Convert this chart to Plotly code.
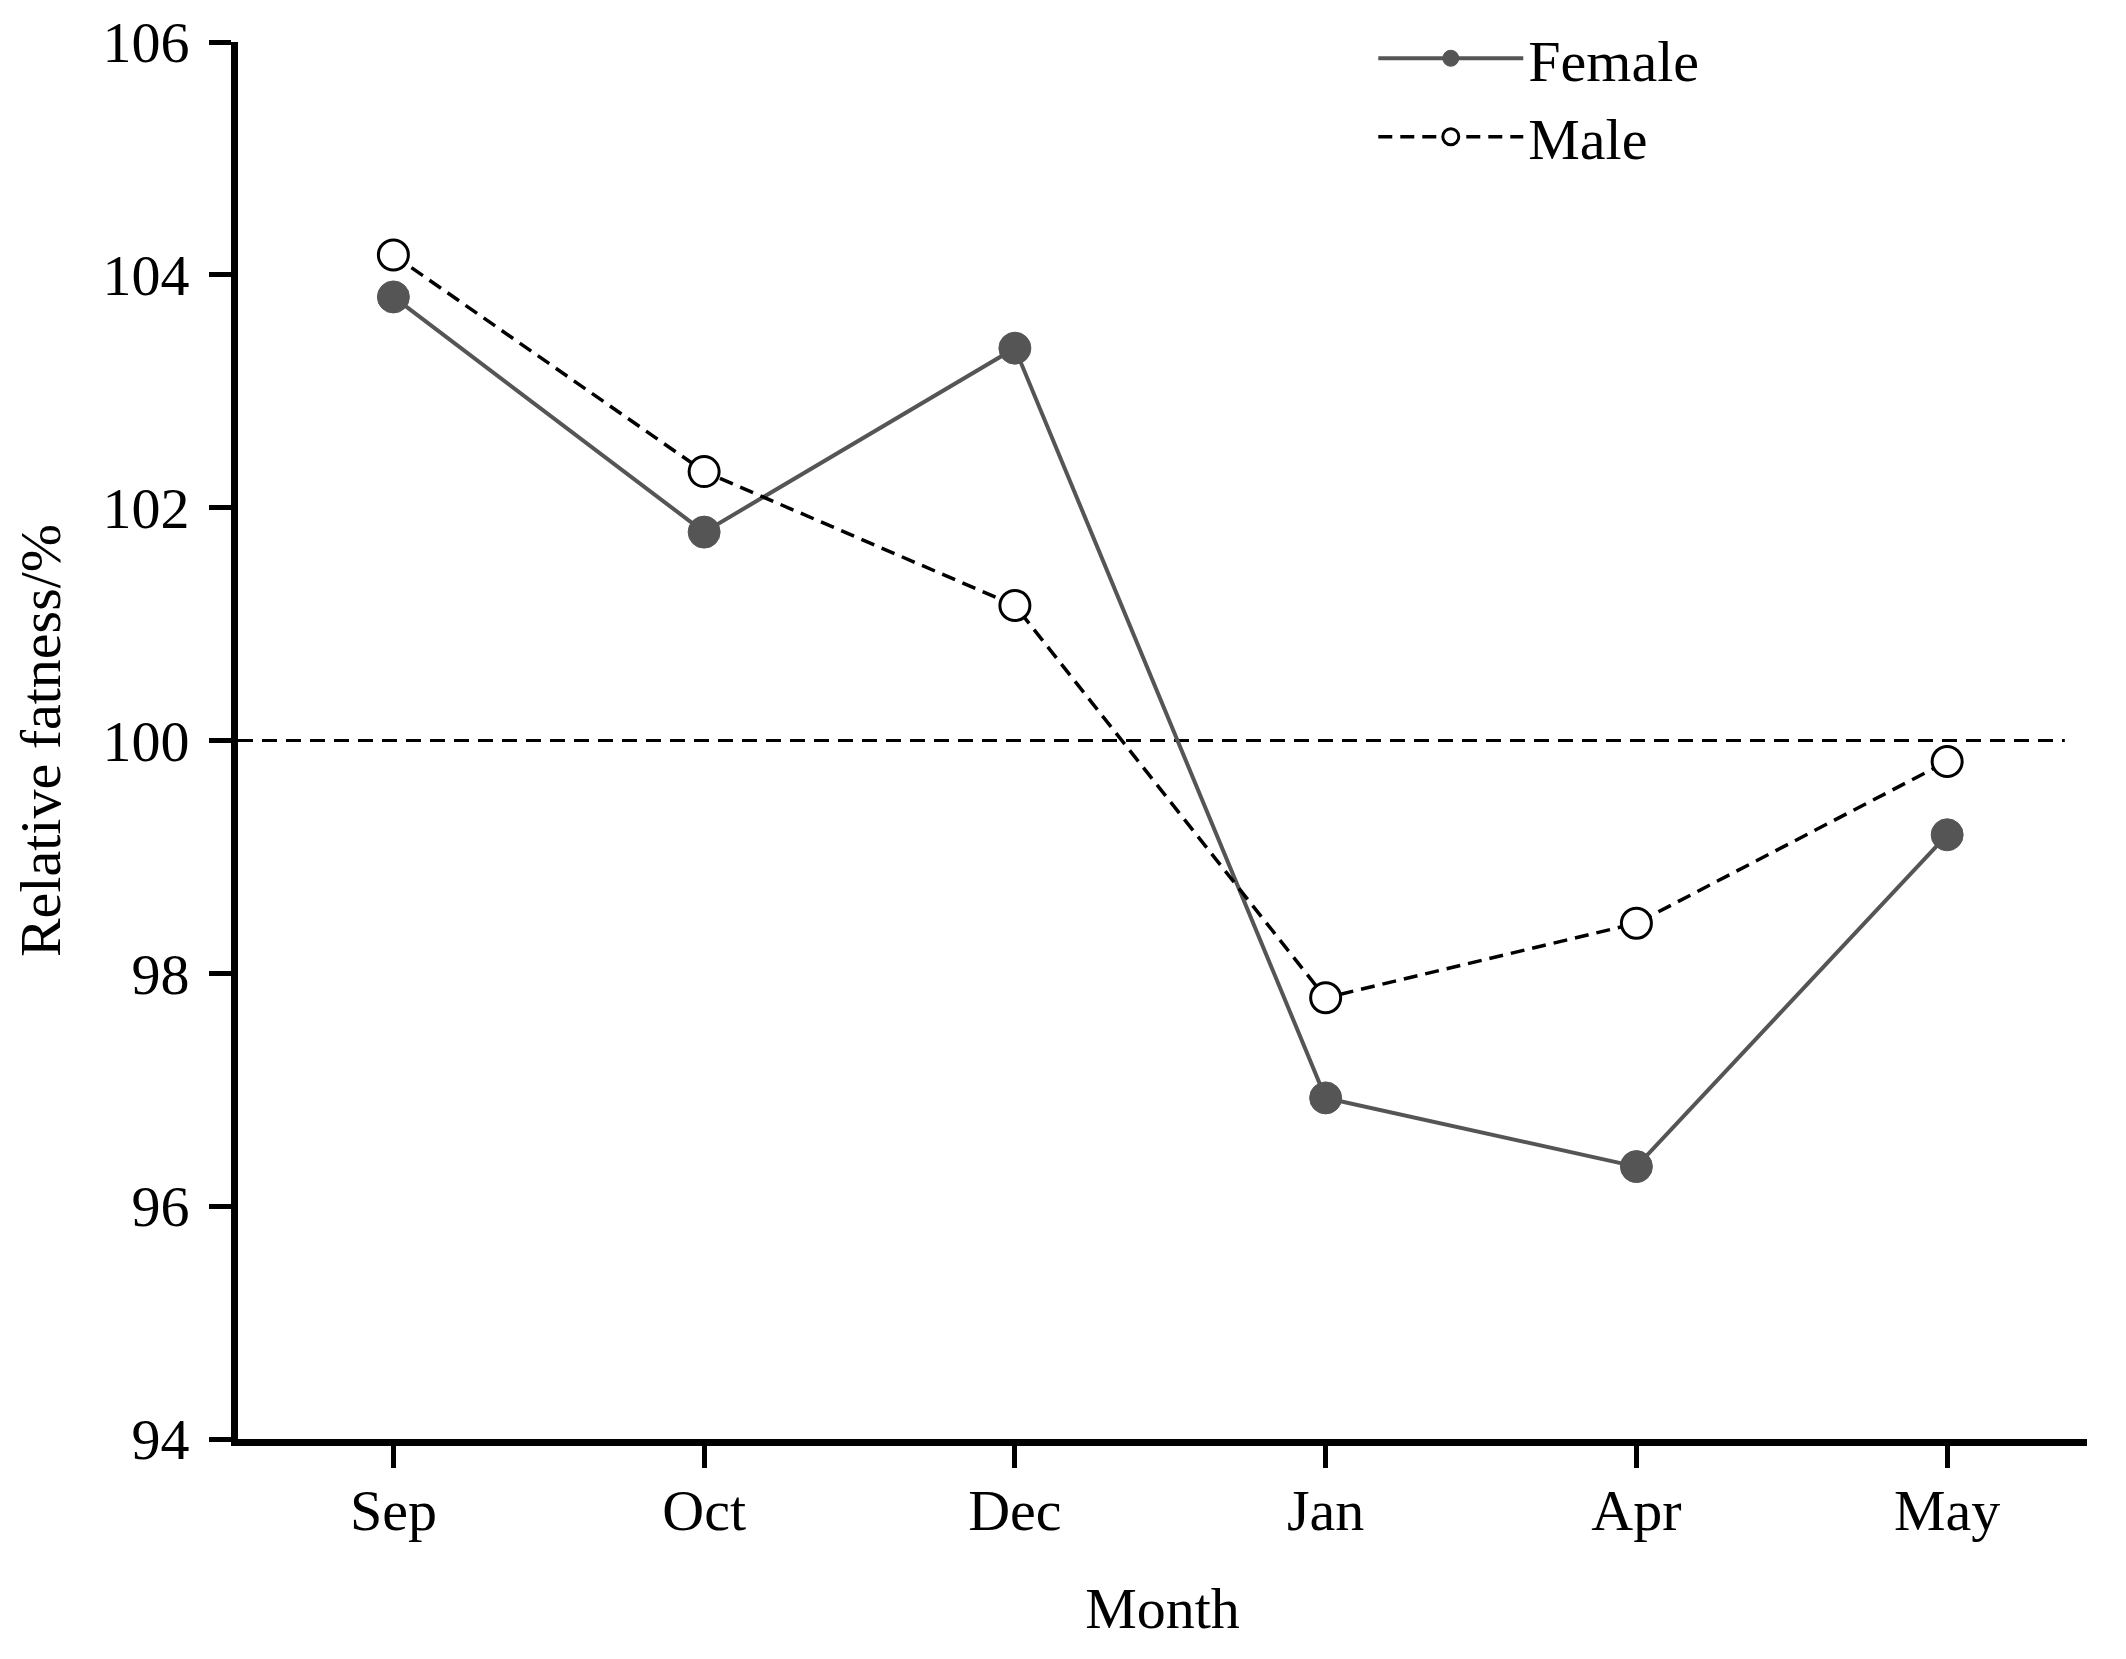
import plotly.graph_objects as go

months = ["Sep", "Oct", "Dec", "Jan", "Apr", "May"]
female = [103.81, 101.79, 103.37, 96.93, 96.34, 99.19]
male = [104.17, 102.31, 101.16, 97.79, 98.43, 99.82]
y_ticks = [94, 96, 98, 100, 102, 104, 106]
reference_value = 100

FONT = "Liberation Serif, Times New Roman, serif"

fig = go.Figure()
fig.add_trace(go.Scatter(
    x=months, y=female, name="Female", mode="lines+markers",
    line=dict(color="#555555", width=4),
    marker=dict(symbol="circle", size=32, color="#555555",
                line=dict(color="#555555", width=1)),
))
fig.add_trace(go.Scatter(
    x=months, y=male, name="Male", mode="lines+markers",
    line=dict(color="#000000", width=3.5, dash="14px,8px"),
    marker=dict(symbol="circle", size=30, color="#ffffff",
                line=dict(color="#000000", width=3)),
))

fig.add_shape(type="line", xref="paper", yref="y", x0=0, x1=0.988,
              y0=reference_value, y1=reference_value,
              line=dict(color="#000000", width=3, dash="15px,9px"), layer="below")

fig.update_layout(
    width=2126, height=1659,
    margin=dict(l=230, r=47, t=34, b=228, autoexpand=False),
    paper_bgcolor="white", plot_bgcolor="white",
    font=dict(family=FONT, size=58, color="#000000"),
    showlegend=True,
    legend=dict(x=0.614, y=1.02, xanchor="left", yanchor="top",
                bgcolor="rgba(0,0,0,0)", font=dict(size=58), itemwidth=145,
                tracegroupgap=0),
    xaxis=dict(
        type="category", range=[-0.5, 5.45],
        showline=True, linecolor="#000000", linewidth=7,
        ticks="outside", ticklen=22, tickwidth=5, tickcolor="#000000",
        ticklabelstandoff=-8,
        showgrid=False, zeroline=False,
        title=dict(text="Month", standoff=48, font=dict(size=58)),
    ),
    yaxis=dict(
        range=[94, 106], tickvals=y_ticks,
        showline=True, linecolor="#000000", linewidth=7,
        ticks="outside", ticklen=22, tickwidth=5, tickcolor="#000000",
        ticklabelstandoff=8, ticklabeloverflow="allow",
        showgrid=False, zeroline=False,
        title=dict(text="Relative fatness/%", standoff=36, font=dict(size=58)),
    ),
)

fig.write_html("out.html")
